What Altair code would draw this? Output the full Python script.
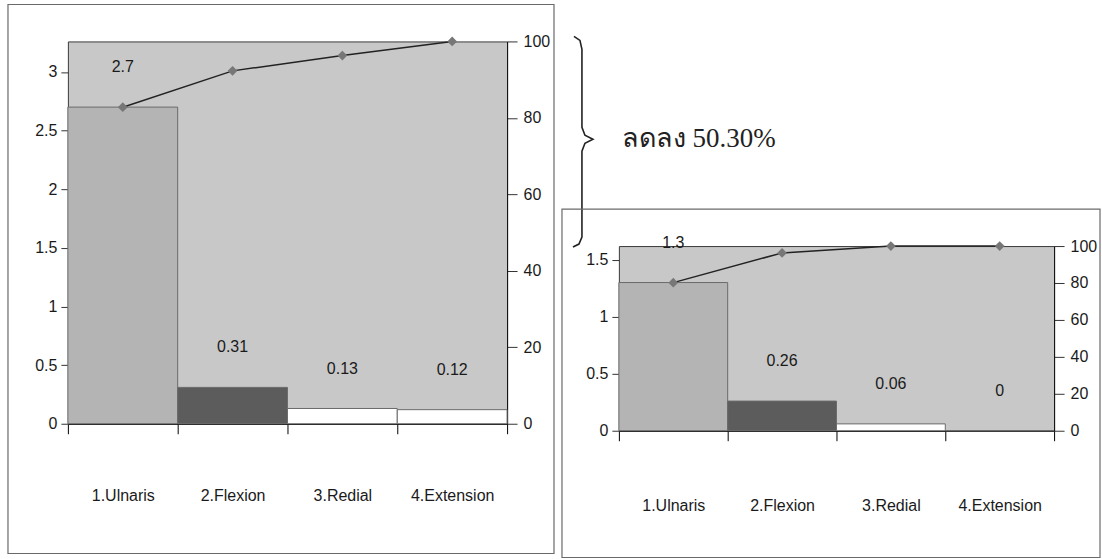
import altair as alt
import pandas as pd

categories = ["1.Ulnaris", "2.Flexion", "3.Redial", "4.Extension"]
before_values = [2.7, 0.31, 0.13, 0.12]
before_cum_pct = [82.8, 92.3, 96.3, 100.0]
after_values = [1.3, 0.26, 0.06, 0.0]
after_cum_pct = [80.2, 96.3, 100.0, 100.0]
bar_fills = ["#b4b4b4", "#5c5c5c", "#ffffff", "#ffffff"]
before_left_ticks = [0, 0.5, 1, 1.5, 2, 2.5, 3]
after_left_ticks = [0, 0.5, 1, 1.5]
right_ticks = [0, 20, 40, 60, 80, 100]
annotation_text = "ลดลง 50.30%"

# brace decoration (pixel path, relative to annotation view)
brace_x = [-45, -39, -37, -37, -34, -26, -34, -37, -37, -40, -46]
brace_y = [-5, -1, 8, 86, 94, 98, 102, 110, 196, 203, 206]

FONT = "Liberation Sans"
TXT = "#1a1a1a"


def pareto(values, cum, ymax, yticks, w, h, label_pad, frame):
    df = pd.DataFrame({"cat": categories, "val": values, "cum": cum, "fill": bar_fills})
    base = alt.Chart(df)
    x = alt.X(
        "cat:N",
        sort=categories,
        scale=alt.Scale(paddingInner=0, paddingOuter=0),
        axis=alt.Axis(
            title=None, labelAngle=0, tickBand="extent", tickSize=10,
            labelPadding=label_pad, domainColor="#000", tickColor="#000",
            labelFont=FONT, labelFontSize=16, labelColor=TXT,
        ),
    )
    yl = alt.Y(
        "val:Q",
        scale=alt.Scale(domain=[0, ymax], nice=False, zero=True),
        axis=alt.Axis(
            title=None, values=yticks, format="~g", grid=False, domain=False,
            tickSize=7, tickColor="#333", labelPadding=4, labelOverlap=False,
            labelFont=FONT, labelFontSize=16, labelColor=TXT, orient="left",
        ),
    )
    bars = base.mark_bar(stroke="#6a6a6a", strokeWidth=1).encode(
        x=x, y=yl, fill=alt.Fill("fill:N", scale=None)
    )
    labels = base.mark_text(dy=-40, font=FONT, fontSize=16, color=TXT).encode(
        x=x, y=yl, text=alt.Text("val:Q", format="~g")
    )
    left = alt.layer(bars, labels)
    yr = alt.Y(
        "cum:Q",
        scale=alt.Scale(domain=[0, 100], nice=False),
        axis=alt.Axis(
            title=None, values=right_ticks, grid=False, domain=True,
            domainColor="#111", tickSize=10, tickColor="#333", labelPadding=6,
            labelOverlap=False, labelBound=False, labelFlush=False,
            labelFont=FONT, labelFontSize=16, labelColor=TXT, orient="right",
        ),
    )
    line = base.mark_line(color="#222", strokeWidth=1.5).encode(x=x, y=yr)
    pts = base.mark_point(
        shape="diamond", filled=True, color="#777777", size=95, opacity=1
    ).encode(x=x, y=yr)
    right = alt.layer(line, pts)
    fx1, fy1, fx2, fy2 = frame
    frm = alt.Chart(pd.DataFrame({"a": [0]})).mark_rect(
        fill="transparent", stroke="#6a6a6a", strokeWidth=1.2
    ).encode(
        x=alt.value(fx1), x2=alt.value(fx2), y=alt.value(fy1), y2=alt.value(fy2)
    )
    return (
        alt.layer(frm, left, right)
        .resolve_scale(y="independent")
        .properties(
            width=w, height=h,
            view=alt.ViewBackground(fill="#c8c8c8", stroke="#3a3a3a", strokeWidth=1),
        )
    )


left_chart = pareto(before_values, before_cum_pct, 3.26, before_left_ticks,
                    440, 383, 54, (-60, -37, 487, 513))
right_chart = pareto(after_values, after_cum_pct, 1.62, after_left_ticks,
                     436, 185, 57, (-57, -37, 482, 312))

ann_text = alt.Chart(pd.DataFrame({"t": [annotation_text]})).mark_text(
    align="left", baseline="middle", font="Liberation Serif", fontSize=27, color="#222"
).encode(x=alt.value(3), y=alt.value(98), text="t:N")

brace = alt.Chart(
    pd.DataFrame({"bx": brace_x, "by": brace_y, "o": list(range(len(brace_x)))})
).mark_line(color="#222", strokeWidth=1.6).encode(
    x=alt.X("bx:Q", scale=None, axis=None),
    y=alt.Y("by:Q", scale=None, axis=None),
    order="o:Q",
)

annotation = alt.layer(ann_text, brace).properties(
    width=436, height=195,
    view=alt.ViewBackground(fill="transparent", stroke="transparent"),
)

right_col = alt.vconcat(annotation, right_chart, spacing=10, bounds="flush")

chart = (
    alt.hconcat(left_chart, right_col, spacing=112, bounds="flush")
    .properties(
        padding={"left": 6, "top": 2, "right": 0, "bottom": 0},
        background="#ffffff",
    )
    .configure_axis(labelOverlap=False)
)

chart.save("out.html", embed_options={"renderer": "svg", "actions": False})
